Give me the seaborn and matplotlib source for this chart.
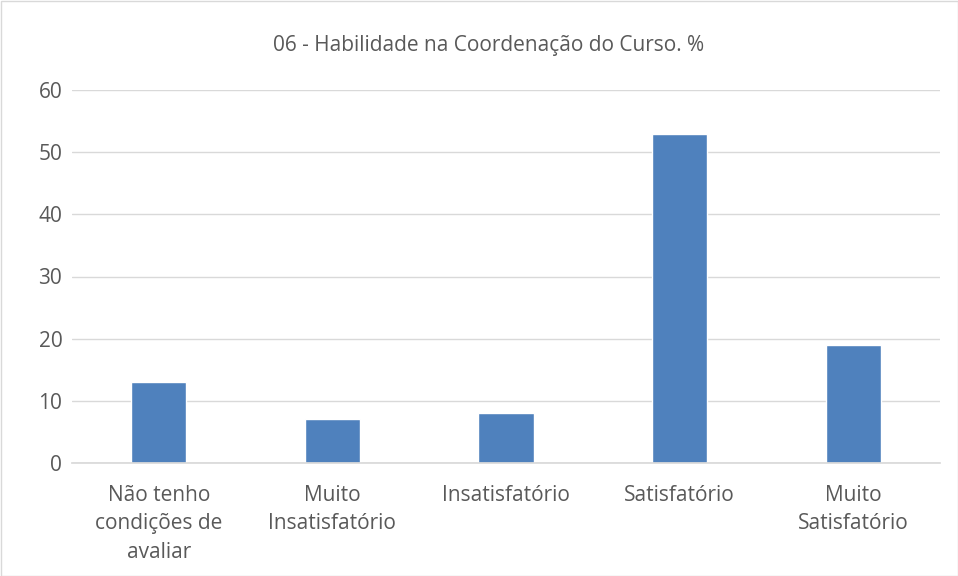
import matplotlib
matplotlib.use("Agg")
import matplotlib.pyplot as plt
import seaborn as sns
import pandas as pd

categories = ["Não tenho\ncondições de\navaliar", "Muito\nInsatisfatório", "Insatisfatório", "Satisfatório", "Muito\nSatisfatório"]
values = [13, 7, 8, 53, 19]
yticks = [0, 10, 20, 30, 40, 50, 60]
title = "06 - Habilidade na Coordenação do Curso. %"

sns.set_theme(style="white")
plt.rcParams['font.family'] = ['Open Sans', 'DejaVu Sans']

df = pd.DataFrame({"cat": categories, "val": values})

fig = plt.figure(figsize=(9.58, 5.76), dpi=100)
ax = fig.add_axes([72/958, (576-463)/576, (940-72)/958, (463-90)/576])
sns.barplot(data=df, x="cat", y="val", color="#4F81BD", width=0.317, ax=ax, saturation=1)

ax.set_ylim(0, 60)
ax.set_yticks(yticks)
ax.yaxis.grid(True, color="#D9D9D9", linewidth=1)
ax.set_axisbelow(True)
for s in ["top", "right", "left"]:
    ax.spines[s].set_visible(False)
ax.spines["bottom"].set_color("#D9D9D9")
ax.tick_params(axis="both", length=0, labelsize=15, colors="#595959")
ax.tick_params(axis="x", pad=16)
ax.tick_params(axis="y", pad=7)
ax.set_xlabel("")
ax.set_ylabel("")
for lbl in ax.get_xticklabels():
    lbl.set_linespacing(1.45)
fig.text(489/958, 1 - 45/576, title, ha="center", va="center", fontsize=15, color="#595959")

border = plt.Rectangle((0.5/958, 0.5/576), 1 - 1/958, 1 - 1/576, transform=fig.transFigure,
                       fill=False, edgecolor="#D9D9D9", linewidth=1)
fig.patches.append(border)

fig.savefig("out.png", dpi=100)
